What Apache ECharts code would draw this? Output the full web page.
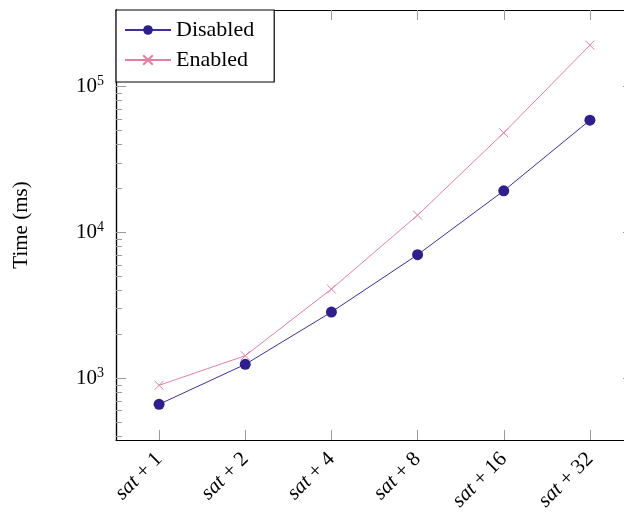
<!DOCTYPE html>
<html>
<head>
<meta charset="utf-8">
<script src="https://cdn.jsdelivr.net/npm/echarts@6/dist/echarts.min.js"></script>
<style>html,body{margin:0;padding:0;background:#fff;overflow:hidden}#main{width:633px;height:514px}</style>
</head>
<body>
<div id="main"></div>
<script>
// sat + n
const categories = ['1', '2', '4', '8', '16', '32'];
const disabled = [664, 1247, 2845, 7030, 19280, 58700];
const enabled = [896, 1429, 4090, 13120, 48100, 191800];
const yMajor = [1000, 10000, 100000];
const yMinor = [400, 500, 600, 700, 800, 900, 2000, 3000, 4000, 5000, 6000, 7000, 8000, 9000,
  20000, 30000, 40000, 50000, 60000, 70000, 80000, 90000, 200000, 300000];

const font = 'Liberation Serif';
const yMin = 378, yMax = 334000;
const tickGray = '#9a9a9a';

const chart = echarts.init(document.getElementById('main'));

function yAxisDef(pos, vals, len, labels) {
  return {
    type: 'log', position: pos, min: yMin, max: yMax,
    axisLine: { show: true, onZero: false, lineStyle: { color: '#000', width: 1.2 } },
    axisTick: { show: true, inside: true, length: len, customValues: vals, lineStyle: { color: tickGray } },
    axisLabel: labels ? {
      show: true, customValues: vals, margin: 12,
      formatter: v => '10{s|' + Math.round(Math.log10(v)) + '}',
      fontFamily: font, fontSize: 21, color: '#000',
      rich: { s: { fontSize: 14, verticalAlign: 'top', padding: [0, 0, 10, 0], fontFamily: font } }
    } : { show: false },
    splitLine: { show: false },
    minorTick: { show: false }
  };
}

const option = {
  animation: false,
  grid: { left: 116, top: 10, right: 0, bottom: 74, show: false },
  legend: {
    orient: 'vertical', left: 116, top: 10,
    data: ['Disabled', 'Enabled'],
    backgroundColor: '#fff', borderColor: '#000', borderWidth: 1.2, borderRadius: 0,
    padding: [9, 20, 11, 8], itemWidth: 46, itemHeight: 12, itemGap: 8,
    textStyle: { fontFamily: font, fontSize: 22, color: '#000' }
  },
  xAxis: [{
    type: 'category', data: categories, position: 'bottom',
    axisLine: { show: true, lineStyle: { color: '#000', width: 1.2 } },
    axisTick: { show: true, inside: true, length: 10, alignWithLabel: true, lineStyle: { color: tickGray } },
    axisLabel: {
      rotate: 45, margin: 16, interval: 0,
      formatter: v => '{i|sat} + ' + v,
      fontFamily: font, fontSize: 21, color: '#000',
      rich: { i: { fontStyle: 'italic', fontFamily: font, fontSize: 21 } }
    }
  }, {
    type: 'category', data: categories, position: 'top',
    axisLine: { show: true, lineStyle: { color: '#000', width: 1.2 } },
    axisTick: { show: true, inside: true, length: 10, alignWithLabel: true, lineStyle: { color: tickGray } },
    axisLabel: { show: false }
  }],
  yAxis: [
    Object.assign(yAxisDef('left', yMajor, 10, true), {
      name: 'Time (ms)', nameLocation: 'middle', nameGap: 84, nameRotate: 90,
      nameTextStyle: { fontFamily: font, fontSize: 21, color: '#000' }
    }),
    yAxisDef('left', yMinor, 6, false),
    yAxisDef('right', yMajor, 10, false),
    yAxisDef('right', yMinor, 6, false)
  ],
  series: [{
    name: 'Disabled', type: 'line', data: disabled,
    symbol: 'circle', symbolSize: 11,
    itemStyle: { color: '#2f1f8c' },
    lineStyle: { color: '#3f2f9c', width: 1 }
  }, {
    name: 'Enabled', type: 'line', data: enabled,
    symbol: 'path://M0,0L10,10M10,0L0,10', symbolSize: 9,
    itemStyle: { color: 'rgba(0,0,0,0)', borderColor: '#e47fa3', borderWidth: 1 },
    lineStyle: { color: '#e47fa3', width: 1 }
  }]
};

chart.setOption(option);
</script>
</body>
</html>
